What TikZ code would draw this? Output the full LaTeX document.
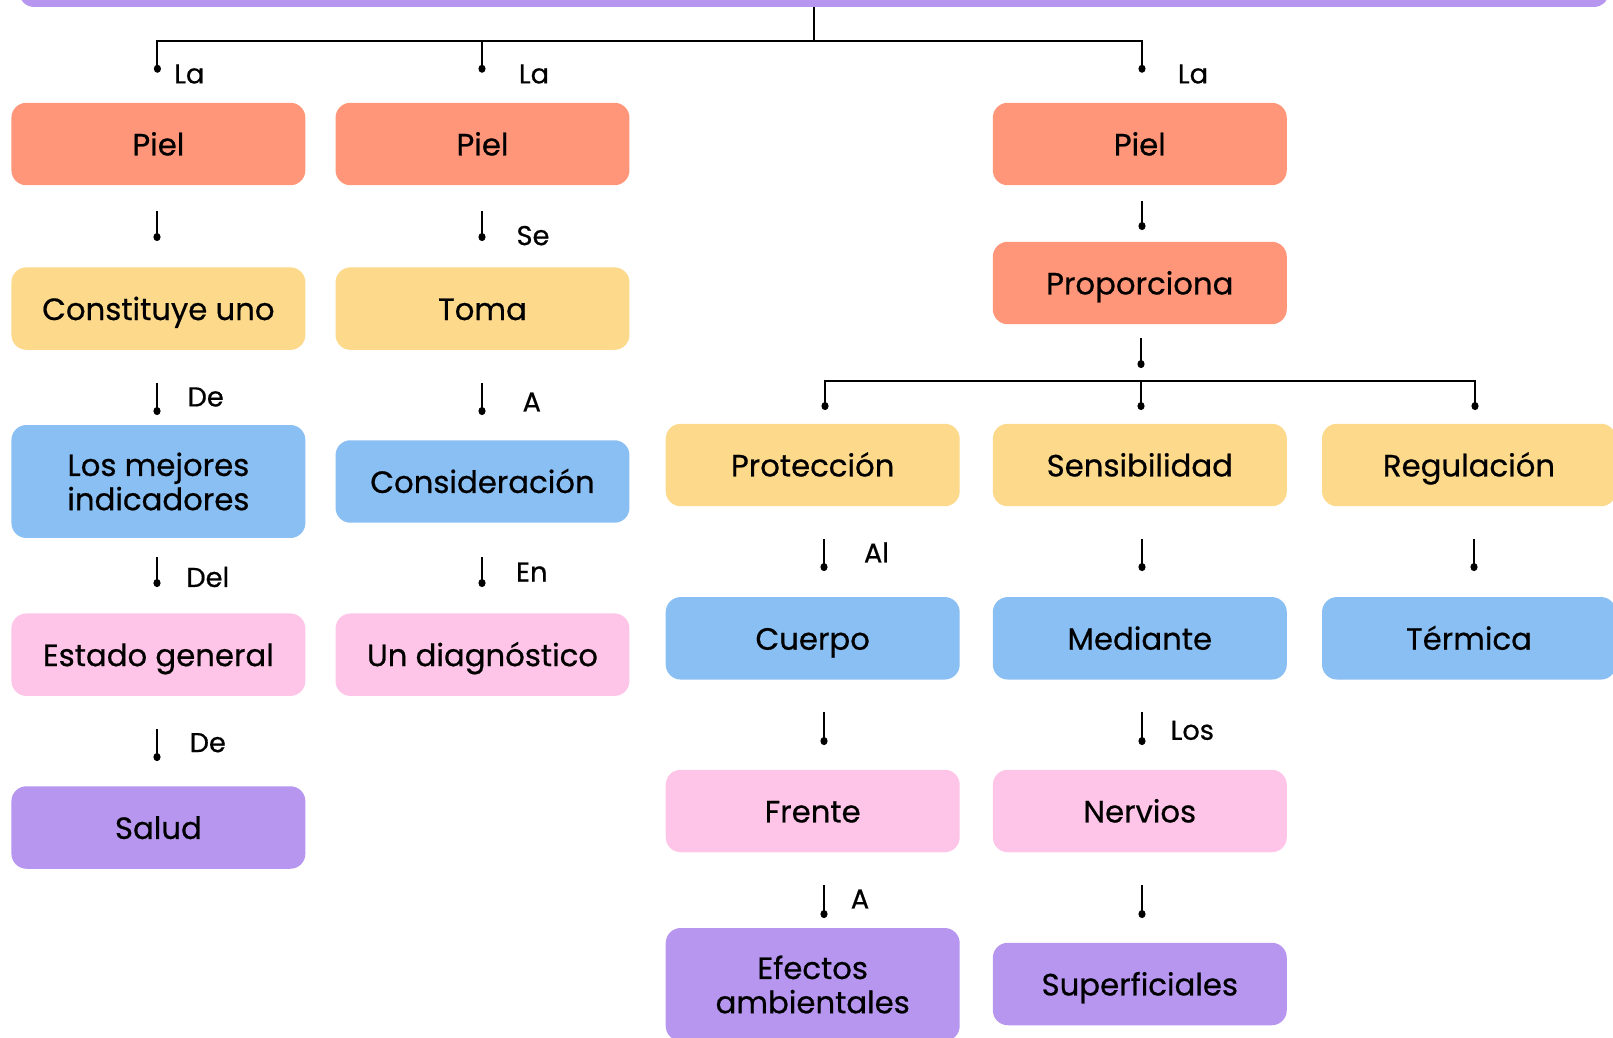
\documentclass[tikz,border=0pt]{standalone}
\usepackage{fontspec}
\setmainfont{Poppins}[FakeBold=0.6]
\usetikzlibrary{arrows.meta}

\definecolor{salmon}{HTML}{FF9679}
\definecolor{amarillo}{HTML}{FDD98B}
\definecolor{celeste}{HTML}{89BFF3}
\definecolor{rosa}{HTML}{FFC5E8}
\definecolor{lila}{HTML}{B696EE}

\tikzset{
    base/.style={rounded corners=0.3cm, minimum width=5.88cm, inner sep=0pt, align=center, font=\fontsize{17.5}{19.5}\selectfont},
    box/.style={base, minimum height=1.65cm, text height=14.5pt, text depth=1.5pt},
    tall/.style={base, minimum height=2.26cm},
    stub/.style={line width=1.1pt, -{Circle[length=4.5pt, width=4pt]}},
    wire/.style={line width=1.1pt},
    lbl/.style={inner sep=0pt, font=\fontsize{15.5}{18}\selectfont},
}

\begin{document}
\begin{tikzpicture}[x=0.02cm, y=-0.02cm]
    \useasboundingbox (0,0) rectangle (1613,1038);

    \node[box, fill=lila, minimum width=31.8cm, minimum height=2cm] (tema) at (814,-43) {};

    \node[box, fill=salmon] (pielA) at (158.4,144) {Piel};
    \node[box, fill=salmon] (pielB) at (482.5,144) {Piel};
    \node[box, fill=salmon] (pielC) at (1139.8,144) {Piel};

    \node[box, fill=amarillo] (constituye) at (158.4,308.6) {Constituye uno};
    \node[box, fill=amarillo] (toma) at (482.5,308.6) {Toma};
    \node[box, fill=salmon] (proporciona) at (1139.8,283) {Proporciona};

    \node[tall, fill=celeste] (indicadores) at (158.4,481.5) {Los mejores\\indicadores};
    \node[box, fill=celeste] (consideracion) at (482.5,481.5) {Consideración};
    \node[box, fill=amarillo] (proteccion) at (812.7,465) {Protección};
    \node[box, fill=amarillo] (sensibilidad) at (1139.8,465) {Sensibilidad};
    \node[box, fill=amarillo] (regulacion) at (1469,465) {Regulación};

    \node[box, fill=rosa] (estado) at (158.4,654.7) {Estado general};
    \node[box, fill=rosa] (diagnostico) at (482.5,654.7) {Un diagnóstico};
    \node[box, fill=celeste] (cuerpo) at (812.7,638.3) {Cuerpo};
    \node[box, fill=celeste] (mediante) at (1139.8,638.3) {Mediante};
    \node[box, fill=celeste] (termica) at (1469,638.3) {Térmica};

    \node[box, fill=lila] (salud) at (158.4,827.5) {Salud};
    \node[box, fill=rosa] (frente) at (812.7,811) {Frente};
    \node[box, fill=rosa] (nervios) at (1139.8,811) {Nervios};

    \node[tall, fill=lila] (efectos) at (812.7,984.5) {Efectos\\ambientales};
    \node[box, fill=lila] (superficiales) at (1139.8,984) {Superficiales};

    % top branches
    \coordinate (hub1) at (814,41.3);
    \coordinate (dA) at (157.4,72.7);
    \coordinate (dB) at (482,72.7);
    \coordinate (dC) at (1142,72.7);
    \draw[wire] (tema.south) -- (hub1);
    \draw[stub] (hub1) -| (dA);
    \draw[stub] (hub1) -| (dB);
    \draw[stub] (hub1) -| (dC);

    % branches under Proporciona
    \coordinate (hub2) at (1141,381);
    \coordinate (pA) at (825,410);
    \coordinate (pB) at (1141,410);
    \coordinate (pC) at (1475,410);
    \draw[stub] (hub2) -| (pA);
    \draw[stub] (hub2) -- (pB);
    \draw[stub] (hub2) -| (pC);

    % short stubs
    \coordinate (c1t) at (157,211);   \coordinate (c1b) at (157,241);
    \coordinate (c2t) at (482,211);   \coordinate (c2b) at (482,241);
    \coordinate (c3t) at (1142,201);  \coordinate (c3b) at (1142,230);
    \coordinate (c4t) at (157,383);   \coordinate (c4b) at (157,415);
    \coordinate (c5t) at (482,383);   \coordinate (c5b) at (482,415);
    \coordinate (c6t) at (1141,338);  \coordinate (c6b) at (1141,368);
    \coordinate (c7t) at (157,557);   \coordinate (c7b) at (157,587);
    \coordinate (c8t) at (482,557);   \coordinate (c8b) at (482,587);
    \coordinate (c9t) at (824,539);   \coordinate (c9b) at (824,571);
    \coordinate (c10t) at (1142,539); \coordinate (c10b) at (1142,571);
    \coordinate (c11t) at (1474,539); \coordinate (c11b) at (1474,571);
    \coordinate (c12t) at (157,729);  \coordinate (c12b) at (157,761);
    \coordinate (c13t) at (824,712);  \coordinate (c13b) at (824,745);
    \coordinate (c14t) at (1142,712); \coordinate (c14b) at (1142,745);
    \coordinate (c15t) at (824,885);  \coordinate (c15b) at (824,918);
    \coordinate (c16t) at (1142,885); \coordinate (c16b) at (1142,918);

    \draw[stub] (c1t) -- (c1b);
    \draw[stub] (c2t) -- (c2b);
    \draw[stub] (c3t) -- (c3b);
    \draw[stub] (c4t) -- (c4b);
    \draw[stub] (c5t) -- (c5b);
    \draw[stub] (c6t) -- (c6b);
    \draw[stub] (c7t) -- (c7b);
    \draw[stub] (c8t) -- (c8b);
    \draw[stub] (c9t) -- (c9b);
    \draw[stub] (c10t) -- (c10b);
    \draw[stub] (c11t) -- (c11b);
    \draw[stub] (c12t) -- (c12b);
    \draw[stub] (c13t) -- (c13b);
    \draw[stub] (c14t) -- (c14b);
    \draw[stub] (c15t) -- (c15b);
    \draw[stub] (c16t) -- (c16b);

    % labels
    \node[lbl] (laA) at (189.3,74) {La};
    \node[lbl] (laB) at (534,74) {La};
    \node[lbl] (laC) at (1193,74) {La};
    \node[lbl] (se) at (533,235.6) {Se};
    \node[lbl] (deA) at (205.7,397) {De};
    \node[lbl] (aB) at (531.8,402) {A};
    \node[lbl] (del) at (207.8,577) {Del};
    \node[lbl] (en) at (531.8,572) {En};
    \node[lbl] (al) at (876.5,552.4) {Al};
    \node[lbl] (deB) at (207.8,742.7) {De};
    \node[lbl] (los) at (1192.3,730.4) {Los};
    \node[lbl] (aC) at (860,899) {A};
\end{tikzpicture}
\end{document}
